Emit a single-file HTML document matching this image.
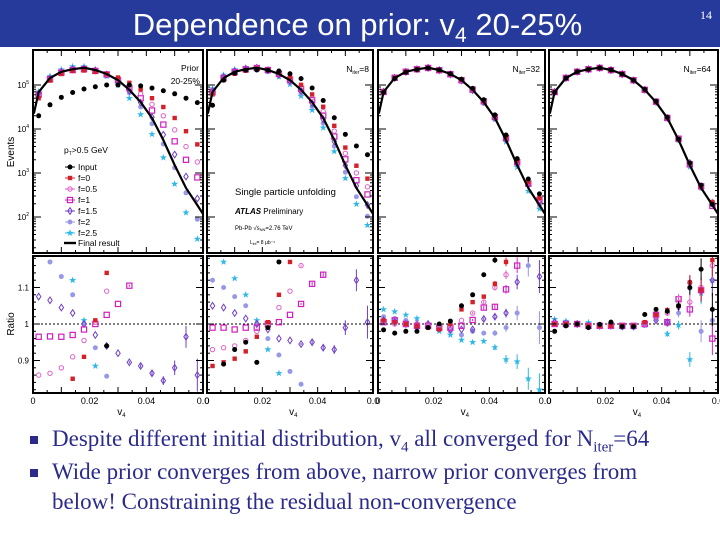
<!DOCTYPE html>
<html><head><meta charset="utf-8"><style>
html,body{margin:0;width:720px;height:540px;overflow:hidden}
body{background:#fff;position:relative;font-family:"Liberation Sans",sans-serif}
#bar{position:absolute;left:0;top:0;width:720px;height:47px;background:#263a9b}
#title{position:absolute;left:0;width:715px;top:8px;height:36px;text-align:center;color:#fff;font-size:31px;line-height:34px;white-space:nowrap}
#num{position:absolute;right:8px;top:8px;color:#fff;font-family:"Liberation Serif",serif;font-size:12px}
.bul{position:absolute;left:52px;font-family:"Liberation Serif",serif;font-size:23px;color:#2b2b8c;line-height:30px;width:650px}
.sq{position:absolute;left:30px;width:8px;height:8px;background:#2b2b8c}
svg{display:block}
</style></head><body>
<div id="bar"></div>
<div id="title">Dependence on prior: v<sub style="font-size:21px;line-height:0">4</sub> 20-25%</div>
<div id="num">14</div>
<svg id="chart" width="720" height="420" style="position:absolute;left:0;top:0"></svg>
<div class="sq" style="top:436px"></div>
<div class="bul" style="top:424px;height:30px;white-space:nowrap">Despite different initial distribution, v<sub style="font-size:15px;line-height:0">4</sub> all converged for N<sub style="font-size:15px;line-height:0">iter</sub>=64</div>
<div class="sq" style="top:469px"></div>
<div class="bul" style="top:457px;height:60px">Wide prior converges from above, narrow prior converges from<br>below! Constraining the residual non-convergence</div>
<script>
const bins=[0.002,0.006,0.010,0.014,0.018,0.022,0.026,0.030,0.034,0.038,0.042,0.046,0.050,0.054,0.058];
const finalLog=[4.84,5.16,5.30,5.36,5.39,5.34,5.25,5.11,4.89,4.61,4.25,3.75,3.18,2.66,2.27];
const errs=[0,0,0,0,0,0,0,0,0.003,0.005,0.008,0.012,0.02,0.03,0.045];
const seriesNames=["input","f0","f0.5","f1","f1.5","f2","f2.5"];
const seriesColors=["#000000","#d42028","#e060c8","#d020c0","#7040c8","#9898e8","#30b8e8"];
const seriesMarkers=["dot","fsq","ocirc","osq","odia","fcirc","star"];
const p1Input=[4.3,4.55,4.72,4.83,4.91,4.96,5.0,5.0,5.0,4.98,4.93,4.87,4.8,4.7,4.6];
const p1F0=[4.7,5.1,5.25,5.32,5.33,5.3,5.25,5.17,5.05,4.9,4.7,4.5,4.25,3.95,3.65];
const p1F05=[4.75,5.12,5.27,5.33,5.35,5.31,5.24,5.13,4.98,4.8,4.56,4.3,3.98,3.6,3.25];
const p1F1=[4.78,5.13,5.28,5.34,5.36,5.32,5.24,5.11,4.93,4.7,4.42,4.1,3.72,3.3,2.9];
const p1F15=[4.8,5.15,5.3,5.36,5.37,5.33,5.24,5.08,4.87,4.6,4.27,3.87,3.42,2.92,2.42];
const p1F2=[4.82,5.17,5.32,5.38,5.39,5.34,5.23,5.06,4.82,4.5,4.12,3.66,3.12,2.55,1.95];
const p1F25=[4.85,5.2,5.35,5.42,5.42,5.35,5.2,5.0,4.7,4.33,3.88,3.35,2.75,2.1,1.5];
const r1Input=[0.5,0.5,0.5,0.5,0.5,0.6,0.94,1.3,1.5,2,2,2,2,2,2];
const r1F0=[0.6,0.65,0.7,0.85,0.91,1.01,1.14,1.3,1.5,1.7,2,2,2,2,2];
const r1F05=[0.86,0.865,0.88,0.91,0.955,1.005,1.09,1.25,1.4,1.6,2,2,2,2,2];
const r1F1=[0.965,0.966,0.965,0.97,0.985,1.0,1.025,1.055,1.105,1.25,1.4,1.6,2,2,2];
const r1F15=[1.075,1.065,1.045,1.03,1.0,0.97,0.94,0.92,0.895,0.885,0.865,0.845,0.88,0.965,0.86];
const r1F2=[1.25,1.17,1.13,1.08,1.0,0.935,0.857,0.75,0.7,0.6,0.5,0.5,0.5,0.5,0.5];
const r1F25=[1.3,1.25,1.2,1.12,1.01,0.885,0.75,0.6,0.5,0.4,0.3,0.3,0.3,0.3,0.3];
const r2Input=[0.5,0.89,0.93,0.95,0.895,0.99,1.17,1.4,1.8,2.1,2.5,3.2,5,9,14];
const r2F0=[0.885,0.895,0.905,0.925,0.965,1.005,1.08,1.17,1.3,1.5,1.8,2.1,2.5,3.2,4];
const r2F05=[0.93,0.935,0.94,0.955,0.98,1.0,1.045,1.09,1.16,1.26,1.4,1.6,1.85,2.2,2.6];
const r2F1=[0.99,0.99,0.985,0.99,0.99,1.0,1.005,1.025,1.055,1.11,1.135,1.2,1.35,1.5,1.75];
const r2F15=[1.05,1.045,1.03,1.015,1.0,0.985,0.96,0.955,0.945,0.95,0.935,0.93,0.99,1.12,1.005];
const r2F2=[1.12,1.1,1.075,1.05,1.0,0.96,0.915,0.87,0.835,0.79,0.76,0.72,0.69,0.63,0.56];
const r2F25=[1.2,1.17,1.125,1.08,1.01,0.93,0.865,0.8,0.72,0.66,0.6,0.55,0.5,0.43,0.35];
const r3Input=[0.984,0.975,0.98,0.98,0.99,1.0,1.008,1.05,1.08,1.135,1.175,1.3,1.4,1.6,1.8];
const r3F0=[1.01,1.005,1.0,0.995,0.99,0.985,1.0,1.04,1.06,1.075,1.11,1.17,1.25,1.35,1.45];
const r3F05=[1.005,1.0,1.0,1.0,0.995,0.99,0.995,1.01,1.03,1.06,1.1,1.135,1.2,1.3,1.4];
const r3F1=[1.005,1.01,1.0,0.995,0.995,0.99,0.99,0.995,1.011,1.045,1.047,1.095,1.16,1.25,1.3];
const r3F15=[1.01,1.005,1.0,1.0,1.0,0.99,0.985,0.985,0.985,1.014,1.02,1.03,1.115,1.2,1.13];
const r3F2=[1.02,1.015,1.01,1.0,0.995,0.985,0.98,0.97,0.98,0.975,0.975,0.99,1.03,1.16,0.99];
const r3F25=[1.04,1.034,1.025,1.015,1.0,0.98,0.97,0.956,0.95,0.953,0.936,0.903,0.897,0.85,0.82];
const r4Input=[0.98,0.995,1.0,0.99,0.999,1.005,0.993,0.993,1.026,1.04,1.035,1.05,1.1,1.15,1.04];
const r4F0=[1.0,1.0,1.0,0.995,0.995,0.995,0.995,0.995,1.005,1.025,1.038,1.05,1.114,1.093,1.175];
const r4F05=[1.0,1.0,1.0,0.995,0.995,0.995,0.995,0.995,1.0,1.02,1.03,1.07,1.06,1.1,1.16];
const r4F1=[1.0,1.0,1.0,0.995,0.995,0.995,0.995,0.995,1.0,1.025,1.005,1.068,1.04,1.093,0.96];
const r4F15=[1.005,1.0,1.0,0.995,0.995,0.995,0.993,0.993,1.0,1.01,1.005,1.047,1.113,1.09,1.12];
const r4F2=[1.005,1.0,1.0,0.995,0.995,0.995,0.993,0.993,1.0,1.015,1.0,1.03,1.098,0.98,1.01];
const r4F25=[1.013,1.008,1.0,1.004,0.997,0.994,0.992,0.992,0.997,1.018,0.973,0.997,0.903,1.084,1.12];
const xTicks=[0,0.02,0.04,0.06];
const xTickLabels=["0","0.02","0.04","0.0"];
const yDecades=[2,3,4,5];
const ratioTicks=[0.9,1,1.1];
const ratioTickLabels=["0.9","1","1.1"];

const svg=document.getElementById('chart');
const NS="http://www.w3.org/2000/svg";
function el(tag,attrs,parent){const e=document.createElementNS(NS,tag);for(const k in attrs)e.setAttribute(k,attrs[k]);(parent||svg).appendChild(e);return e;}
const panels=[{x0:33,w:170},{x0:207,w:166},{x0:378,w:167},{x0:549,w:169}];
const UT=50,UB=253,LT=256,LB=393;
function yU(l){return 85-(l-5)*44;}
function yR(r){return 324-(r-1)*365;}
const defs=el('defs',{});
panels.forEach((p,i)=>{
  const c1=el('clipPath',{id:'cu'+i},defs);el('rect',{x:p.x0,y:UT,width:p.w,height:UB-UT},c1);
  const c2=el('clipPath',{id:'cl'+i},defs);el('rect',{x:p.x0,y:LT,width:p.w,height:LB-LT},c2);
});
function marker(g,type,color,x,y){
  const s=2.5;let m;
  if(type==="dot"||type==="fcirc")m=el('circle',{cx:x,cy:y,r:s,fill:color},g);
  else if(type==="ocirc")m=el('circle',{cx:x,cy:y,r:s-0.3,fill:'none',stroke:color,'stroke-width':1},g);
  else if(type==="fsq")m=el('rect',{x:x-2.2,y:y-2.2,width:4.4,height:4.4,fill:color},g);
  else if(type==="osq")m=el('rect',{x:x-2.6,y:y-2.6,width:5.2,height:5.2,fill:'none',stroke:color,'stroke-width':1.2},g);
  else if(type==="odia")m=el('polygon',{points:`${x},${y-3.3} ${x+2.2},${y} ${x},${y+3.3} ${x-2.2},${y}`,fill:'none',stroke:color,'stroke-width':1},g);
  else{let pts=[];for(let k=0;k<10;k++){const a=-Math.PI/2+k*Math.PI/5,rr=k%2?1.5:3.7;pts.push((x+rr*Math.cos(a)).toFixed(1)+','+(y+rr*Math.sin(a)).toFixed(1));}
    m=el('polygon',{points:pts.join(' '),fill:color},g);}
  
  
}
const upper1=[p1Input,p1F0,p1F05,p1F1,p1F15,p1F2,p1F25];
const ratios=[[r1Input,r1F0,r1F05,r1F1,r1F15,r1F2,r1F25],[r2Input,r2F0,r2F05,r2F1,r2F15,r2F2,r2F25],[r3Input,r3F0,r3F05,r3F1,r3F15,r3F2,r3F25],[r4Input,r4F0,r4F05,r4F1,r4F15,r4F2,r4F25]];
panels.forEach((p,pi)=>{
  const xS=v=>p.x0+v/0.06*p.w;
  const pg=el('g',{});
  
  
  const gu=el('g',{'clip-path':`url(#cu${pi})`},pg);
  for(let s=6;s>=0;s--){
    const sg=el('g',{},gu);
    
    
    bins.forEach((b,k)=>{
      const lv=pi===0?upper1[s][k]:finalLog[k]+Math.log10(ratios[pi][s][k]);
      marker(sg,seriesMarkers[s],seriesColors[s],xS(b),yU(lv));
    });
  }
  let d=`M${xS(0.0003)},${yU(4.35)}`;
  bins.forEach((b,k)=>{d+=` L${xS(b).toFixed(1)},${yU(finalLog[k]).toFixed(1)}`;});
  d+=` L${xS(0.06)},${yU(finalLog[14]-0.2)}`;
  const fc=el('path',{d:d,fill:'none',stroke:'#000','stroke-width':2.2},gu);
  
  
  const gl=el('g',{'clip-path':`url(#cl${pi})`},pg);
  el('line',{x1:p.x0,x2:p.x0+p.w,y1:yR(1),y2:yR(1),stroke:'#000','stroke-width':1,'stroke-dasharray':'2,2'},gl);
  for(let s=6;s>=0;s--){
    const sg=el('g',{},gl);
    
    
    bins.forEach((b,k)=>{
      const r=ratios[pi][s][k];
      if(errs[k]>0)el('line',{x1:xS(b),x2:xS(b),y1:yR(r-errs[k]),y2:yR(r+errs[k]),stroke:seriesColors[s],'stroke-width':1},sg);
      marker(sg,seriesMarkers[s],seriesColors[s],xS(b),yR(r));
    });
  }
  const fu=el('rect',{x:p.x0,y:UT,width:p.w,height:UB-UT,fill:'none',stroke:'#000','stroke-width':2},pg);
  
  
  const fl=el('rect',{x:p.x0,y:LT,width:p.w,height:LB-LT,fill:'none',stroke:'#000','stroke-width':2},pg);
  
  
  for(let t=0;t<=0.06001;t+=0.005){const X=xS(t),L=(Math.round(t*1000)%10===0)?6:3;
    el('line',{x1:X,x2:X,y1:LB,y2:LB-L,stroke:'#000'},pg);el('line',{x1:X,x2:X,y1:UT,y2:UT+L,stroke:'#000'},pg);
    el('line',{x1:X,x2:X,y1:UB,y2:UB-L,stroke:'#000'},pg);}
  xTicks.forEach((t,k)=>{const tx=el('text',{x:xS(t),y:404,'font-size':9,'text-anchor':'middle',fill:'#000'},pg);tx.textContent=xTickLabels[k];
    });
  const xl=el('text',{x:p.x0+p.w*0.52,y:415,'font-size':10,'text-anchor':'middle'},pg);
  xl.innerHTML='v<tspan font-size="6" dy="2">4</tspan>';
  
  yDecades.forEach(dd=>{[0,1].forEach(side=>{const X=side?p.x0+p.w:p.x0,sg=side?-1:1;
    el('line',{x1:X,x2:X+8*sg,y1:yU(dd),y2:yU(dd),stroke:'#000'},pg);
    for(let m=2;m<10;m++){const Y=yU(dd-1+Math.log10(m));el('line',{x1:X,x2:X+3*sg,y1:Y,y2:Y,stroke:'#000'},pg);}});});
  ratioTicks.forEach(r=>{[0,1].forEach(side=>{const X=side?p.x0+p.w:p.x0,sg=side?-1:1;el('line',{x1:X,x2:X+7*sg,y1:yR(r),y2:yR(r),stroke:'#000'},pg);});});
  for(let r=0.82;r<1.19;r+=0.02){[0,1].forEach(side=>{const X=side?p.x0+p.w:p.x0,sg=side?-1:1;el('line',{x1:X,x2:X+3*sg,y1:yR(r),y2:yR(r),stroke:'#000'},pg);});}
});
yDecades.forEach(dd=>{const t=el('text',{x:29,y:yU(dd)+3,'font-size':8,'text-anchor':'end'});t.innerHTML='10<tspan font-size="5" dy="-4">'+dd+'</tspan>';
  });
ratioTicks.forEach((r,k)=>{const t=el('text',{x:29,y:yR(r)+3,'font-size':8,'text-anchor':'end'});t.textContent=ratioTickLabels[k];
  });
let t=el('text',{x:0,y:0,'font-size':10,'text-anchor':'middle',transform:'translate(14,152) rotate(-90)'});t.textContent='Events';

t=el('text',{x:0,y:0,'font-size':10,'text-anchor':'middle',transform:'translate(14,324) rotate(-90)'});t.textContent='Ratio';

const lg=el('g',{});


t=el('text',{x:64,y:153,'font-size':8.5},lg);t.innerHTML='p<tspan font-size="5" dy="2">T</tspan><tspan dy="-2">&gt;0.5 GeV</tspan>';
const legLabels=["Input","f=0","f=0.5","f=1","f=1.5","f=2","f=2.5"];
legLabels.forEach((lb,k)=>{const Y=167+k*11;
  const e=el('g',{},lg);
  
  
  el('line',{x1:65,x2:75,y1:Y,y2:Y,stroke:seriesColors[k],'stroke-width':1},e);
  marker(e,seriesMarkers[k],seriesColors[k],70,Y);
  const tt=el('text',{x:78,y:Y+3,'font-size':8.5},e);tt.textContent=lb;});
el('line',{x1:64,x2:76,y1:243,y2:243,stroke:'#000','stroke-width':2.4},lg);
t=el('text',{x:78,y:246,'font-size':8.5},lg);t.textContent='Final result';
function txt(x,y,s,html,anchor,name){const e=el('text',{x:x,y:y,'font-size':s,'text-anchor':anchor||'start'});e.innerHTML=html;
  return e;}
txt(199,71,8.5,'Prior','end','prior-label');
txt(200,84,8.5,'20-25%','end','centrality-label');
txt(369,72,8.5,'N<tspan font-size="5" dy="2">iter</tspan><tspan dy="-2">=8</tspan>','end','niter-8-label');
txt(540,72,8.5,'N<tspan font-size="5" dy="2">iter</tspan><tspan dy="-2">=32</tspan>','end','niter-32-label');
txt(711,72,8.5,'N<tspan font-size="5" dy="2">iter</tspan><tspan dy="-2">=64</tspan>','end','niter-64-label');
txt(235,195,9.5,'Single particle unfolding','start','unfolding-label');
txt(235,214,8,'<tspan font-weight="bold" font-style="italic">ATLAS</tspan> Preliminary','start','atlas-label');
txt(235,230,6,'Pb-Pb √s<tspan font-size="4" dy="1">NN</tspan><tspan dy="-1">=2.76 TeV</tspan>','start','energy-label');
txt(250,244,5,'L<tspan font-size="3.5" dy="1">int</tspan><tspan dy="-1">= 8 μb⁻¹</tspan>','start','lumi-label');
</script>
</body></html>
